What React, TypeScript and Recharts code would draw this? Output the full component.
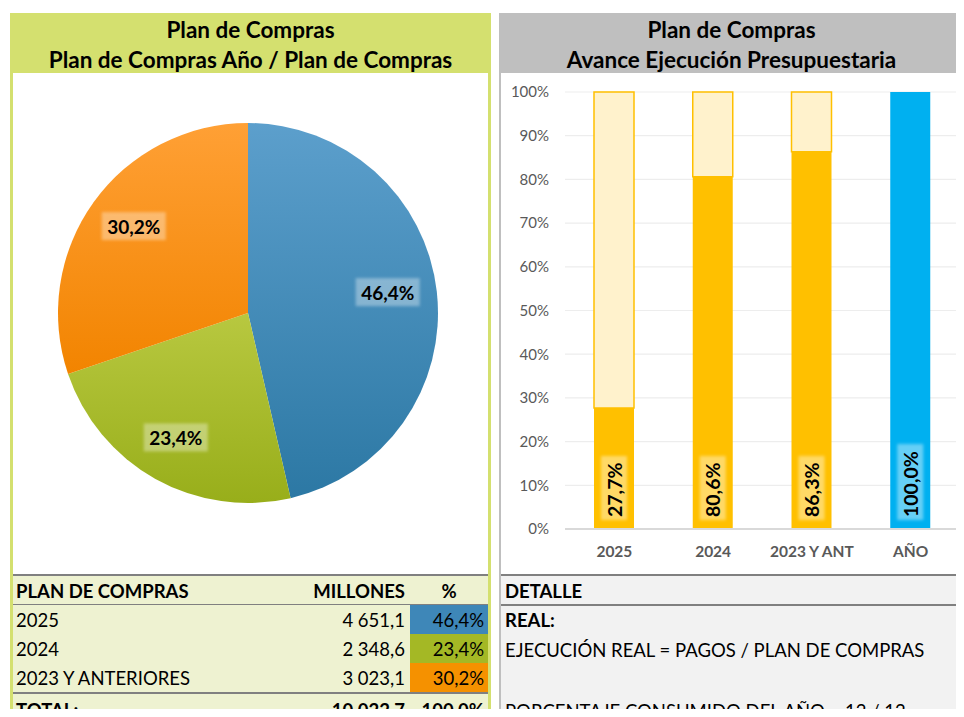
import React from "react";
import {
  Bar,
  BarChart,
  CartesianGrid,
  Cell,
  LabelList,
  Pie,
  PieChart,
  XAxis,
  YAxis,
} from "recharts";

const FONT = "Lato, 'Open Sans', sans-serif";

// pie: plan de compras por año
const pieLabels = ["2025", "2024", "2023 Y ANTERIORES"];
const pieMillions = ["4 651,1", "2 348,6", "3 023,1"];
const piePercents = [46.4, 23.4, 30.2];
const pieTotal = "10 022,7";
const pieGradients = ["gBlue", "gGreen", "gOrange"];
const cellColors = ["#3E87B8", "#A4B825", "#F59100"];

// bars: avance ejecución
const categories = ["2025", "2024", "2023 Y ANT", "AÑO"];
const realPct = [27.7, 80.6, 86.3, 100];
const barColors = ["#FFC000", "#FFC000", "#FFC000", "#00B0F0"];
const yTicks = [0, 10, 20, 30, 40, 50, 60, 70, 80, 90, 100];

const fmt = (v: number) => `${v.toFixed(1).replace(".", ",")}%`;

const pieData = pieLabels.map((name, i) => ({ name, value: piePercents[i] }));
const barData = categories.map((name, i) => ({
  name,
  real: realPct[i],
  rest: 100 - realPct[i],
}));

const RADIAN = Math.PI / 180;

function PieLabel(props: any) {
  const { cx, cy, midAngle, outerRadius, value, index } = props;
  const r = outerRadius * (index === 1 ? 0.78 : 0.74);
  const x = cx + r * Math.cos(-midAngle * RADIAN);
  const y = cy + r * Math.sin(-midAngle * RADIAN) - 5;
  return (
    <g>
      <rect
        x={x - 32}
        y={y - 14}
        width={64}
        height={28}
        fill="#fff"
        opacity={0.35}
        filter="url(#soft)"
      />
      <text
        x={x}
        y={y}
        textAnchor="middle"
        dominantBaseline="central"
        fontFamily={FONT}
        fontWeight={700}
        fontSize={19}
        fill="#000"
      >
        {fmt(value)}
      </text>
    </g>
  );
}

function BarLabel(props: any) {
  const { x, y, width, height, value } = props;
  const cx = x + width / 2;
  const bottom = y + height - 12;
  return (
    <g transform={`rotate(-90, ${cx}, ${bottom})`}>
      <rect
        x={cx - 3}
        y={bottom - 13}
        width={value >= 100 ? 76 : 64}
        height={26}
        fill="#fff"
        opacity={0.4}
        filter="url(#soft)"
      />
      <text
        x={cx}
        y={bottom}
        textAnchor="start"
        dominantBaseline="central"
        fontFamily={FONT}
        fontWeight={700}
        fontSize={19.5}
        fill="#000"
      >
        {fmt(value)}
      </text>
    </g>
  );
}

const titleStyle: React.CSSProperties = {
  position: "absolute",
  top: 13,
  height: 60,
  fontFamily: FONT,
  fontWeight: 700,
  fontSize: 22.5,
  lineHeight: "30px",
  textAlign: "center",
  color: "#000",
  paddingTop: 2,
  boxSizing: "border-box",
};

const cellText: React.CSSProperties = {
  position: "absolute",
  fontFamily: FONT,
  fontSize: 18.5,
  color: "#000",
  whiteSpace: "nowrap",
};

export default function App() {
  const rowTops = [605, 634, 663];
  return (
    <div
      style={{
        position: "relative",
        width: 964,
        height: 717,
        margin: -8,
        overflow: "hidden",
        background: "#fff",
      }}
    >
      <svg width={0} height={0} style={{ position: "absolute" }}>
        <defs>
          <linearGradient id="gBlue" x1="0" y1="0" x2="0" y2="1">
            <stop offset="0%" stopColor="#5C9FCC" />
            <stop offset="100%" stopColor="#2C78A4" />
          </linearGradient>
          <linearGradient id="gGreen" x1="0" y1="0" x2="0" y2="1">
            <stop offset="0%" stopColor="#B8C840" />
            <stop offset="100%" stopColor="#98AE1A" />
          </linearGradient>
          <linearGradient id="gOrange" x1="0" y1="0" x2="0" y2="1">
            <stop offset="0%" stopColor="#FFA035" />
            <stop offset="100%" stopColor="#F28400" />
          </linearGradient>
          <filter id="soft" x="-20%" y="-20%" width="140%" height="140%">
            <feGaussianBlur stdDeviation="1.5" />
          </filter>
        </defs>
      </svg>

      {/* left panel */}
      <div
        style={{
          position: "absolute",
          left: 10,
          top: 13,
          width: 481,
          height: 704,
          background: "#D4E06F",
        }}
      />
      <div
        style={{
          position: "absolute",
          left: 13,
          top: 73,
          width: 475,
          height: 501,
          background: "#fff",
        }}
      />
      <div style={{ ...titleStyle, left: 10, width: 481 }}>
        Plan de Compras
        <br />
        Plan de Compras Año / Plan de Compras
      </div>
      <div style={{ position: "absolute", left: 13, top: 73 }}>
        <PieChart width={475} height={501}>
          <Pie
            data={pieData}
            dataKey="value"
            cx={230}
            cy={235}
            outerRadius={190}
            startAngle={90}
            endAngle={-270}
            stroke="none"
            label={PieLabel}
            labelLine={false}
            isAnimationActive={false}
          >
            {pieData.map((d, i) => (
              <Cell key={d.name} fill={`url(#${pieGradients[i]})`} />
            ))}
          </Pie>
        </PieChart>
      </div>

      {/* left table */}
      <div
        style={{
          position: "absolute",
          left: 13,
          top: 574,
          width: 475,
          height: 143,
          background: "#EEF2D1",
        }}
      />
      <div style={{ position: "absolute", left: 13, top: 574, width: 475, height: 2, background: "#808080" }} />
      <div style={{ position: "absolute", left: 13, top: 604, width: 475, height: 1, background: "#808080" }} />
      <div style={{ position: "absolute", left: 13, top: 692, width: 475, height: 2, background: "#808080" }} />
      <div style={{ ...cellText, left: 16, top: 578, fontWeight: 700, lineHeight: "26px" }}>PLAN DE COMPRAS</div>
      <div style={{ ...cellText, right: 964 - 405, top: 578, fontWeight: 700, lineHeight: "26px" }}>MILLONES</div>
      <div style={{ ...cellText, left: 410, width: 78, textAlign: "center", top: 578, fontWeight: 700, lineHeight: "26px" }}>%</div>
      {pieLabels.map((name, i) => (
        <React.Fragment key={name}>
          <div
            style={{
              position: "absolute",
              left: 410,
              top: rowTops[i],
              width: 78,
              height: 29,
              background: cellColors[i],
            }}
          />
          <div style={{ ...cellText, left: 16, top: rowTops[i], lineHeight: "30px" }}>{name}</div>
          <div style={{ ...cellText, right: 964 - 405, top: rowTops[i], lineHeight: "30px" }}>{pieMillions[i]}</div>
          <div style={{ ...cellText, right: 964 - 484, top: rowTops[i], lineHeight: "30px" }}>{fmt(piePercents[i])}</div>
        </React.Fragment>
      ))}
      <div style={{ ...cellText, left: 16, top: 697, fontWeight: 700, lineHeight: "26px" }}>TOTAL:</div>
      <div style={{ ...cellText, right: 964 - 405, top: 697, fontWeight: 700, lineHeight: "26px" }}>{pieTotal}</div>
      <div style={{ ...cellText, right: 964 - 484, top: 697, fontWeight: 700, lineHeight: "26px" }}>100,0%</div>

      {/* right panel */}
      <div
        style={{
          position: "absolute",
          left: 499,
          top: 13,
          width: 465,
          height: 704,
          background: "#BFBFBF",
        }}
      />
      <div
        style={{
          position: "absolute",
          left: 501,
          top: 73,
          width: 463,
          height: 501,
          background: "#fff",
        }}
      />
      <div style={{ ...titleStyle, left: 499, width: 465 }}>
        Plan de Compras
        <br />
        Avance Ejecución Presupuestaria
      </div>
      <div style={{ position: "absolute", left: 501, top: 73 }}>
        <BarChart
          width={463}
          height={501}
          data={barData}
          margin={{ top: 19, right: 4, left: 0, bottom: 0 }}
          barSize={40}
        >
          <CartesianGrid vertical={false} stroke="#EDEDED" strokeWidth={1.2} />
          <XAxis
            dataKey="name"
            axisLine={{ stroke: "#D9D9D9", strokeWidth: 2 }}
            tickLine={false}
            height={45}
            tickMargin={11}
            tick={{ fill: "#595959", fontSize: 15.5, fontWeight: 700, fontFamily: FONT }}
          />
          <YAxis
            domain={[0, 100]}
            ticks={yTicks}
            tickFormatter={(v: number) => `${v}%`}
            axisLine={false}
            tickLine={false}
            width={64}
            tickMargin={10}
            tick={{ fill: "#595959", fontSize: 15, fontFamily: FONT }}
          />
          <Bar dataKey="real" stackId="a" isAnimationActive={false}>
            {barData.map((d, i) => (
              <Cell key={d.name} fill={barColors[i]} />
            ))}
            <LabelList dataKey="real" content={BarLabel} />
          </Bar>
          <Bar
            dataKey="rest"
            stackId="a"
            fill="#FFF2CC"
            stroke="#FFC000"
            strokeWidth={1.5}
            isAnimationActive={false}
          />
        </BarChart>
      </div>

      {/* right table */}
      <div
        style={{
          position: "absolute",
          left: 501,
          top: 574,
          width: 463,
          height: 143,
          background: "#F2F2F2",
        }}
      />
      <div style={{ position: "absolute", left: 501, top: 574, width: 463, height: 2, background: "#808080" }} />
      <div style={{ position: "absolute", left: 501, top: 604, width: 463, height: 2, background: "#808080" }} />
      <div style={{ ...cellText, left: 505, top: 578, fontWeight: 700, lineHeight: "26px" }}>DETALLE</div>
      <div style={{ ...cellText, left: 505, top: 606, fontWeight: 700, lineHeight: "28px" }}>REAL:</div>
      <div style={{ ...cellText, left: 505, top: 636, lineHeight: "28px" }}>
        EJECUCIÓN REAL = PAGOS / PLAN DE COMPRAS
      </div>
      <div style={{ ...cellText, left: 505, top: 697, lineHeight: "28px" }}>
        PORCENTAJE CONSUMIDO DEL AÑO = 12 / 12
      </div>
    </div>
  );
}
